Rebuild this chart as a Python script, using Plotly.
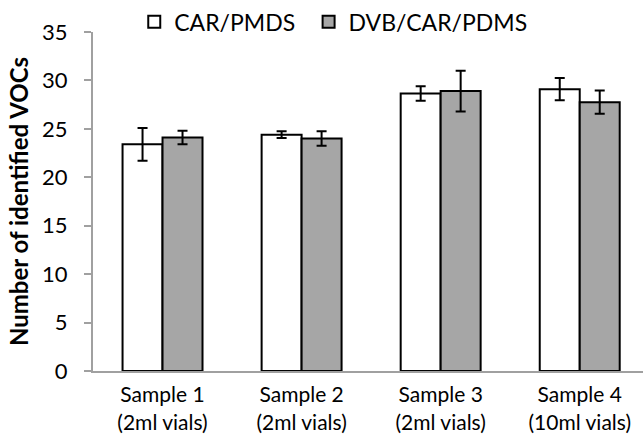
import plotly.graph_objects as go

categories = ["Sample 1<br>(2ml vials)", "Sample 2<br>(2ml vials)",
              "Sample 3<br>(2ml vials)", "Sample 4<br>(10ml vials)"]
car_pmds = [23.4, 24.4, 28.65, 29.1]
car_pmds_err = [1.7, 0.35, 0.75, 1.15]
dvb_car_pdms = [24.1, 24.0, 28.9, 27.75]
dvb_car_pdms_err = [0.7, 0.75, 2.1, 1.2]
y_ticks = [0, 5, 10, 15, 20, 25, 30, 35]

font_family = "Lato, 'Open Sans', sans-serif"

fig = go.Figure()
fig.add_trace(go.Bar(
    name="CAR/PMDS", x=categories, y=car_pmds, legend="legend",
    marker=dict(color="white", line=dict(color="black", width=2)),
    error_y=dict(type="data", array=car_pmds_err, color="black", thickness=2, width=5),
))
fig.add_trace(go.Bar(
    name="DVB/CAR/PDMS", x=categories, y=dvb_car_pdms, legend="legend2",
    marker=dict(color="#a6a6a6", line=dict(color="black", width=2)),
    error_y=dict(type="data", array=dvb_car_pdms_err, color="black", thickness=2, width=5),
))

legend_common = dict(orientation="h", xanchor="left", y=1.03, yanchor="middle",
                     font=dict(size=23), bgcolor="rgba(0,0,0,0)")

fig.update_layout(
    width=643, height=443,
    margin=dict(l=93, r=0, t=32, b=72, pad=0),
    paper_bgcolor="white", plot_bgcolor="white",
    barmode="group", bargap=0.425, bargroupgap=0,
    font=dict(family=font_family, size=23, color="black"),
    legend=dict(x=0.075, **legend_common),
    legend2=dict(x=0.392, **legend_common),
    showlegend=True,
)
fig.update_xaxes(range=[-0.5, 3.455], showline=True, linecolor="#a0a0a0", linewidth=2, ticks="",
                 tickfont=dict(size=21), ticklabelstandoff=4, showgrid=False)
fig.update_yaxes(range=[0, 35], tickvals=y_ticks, showline=True, linecolor="#a0a0a0",
                 linewidth=2, ticks="outside", tickcolor="#a0a0a0", ticklen=7, tickwidth=1.5,
                 ticklabelstandoff=12,
                 showgrid=False, zeroline=False, tickfont=dict(size=22),
                 title=dict(text="<b>Number of identified VOCs</b>", font=dict(size=24), standoff=7))

fig.write_html("out.html")
